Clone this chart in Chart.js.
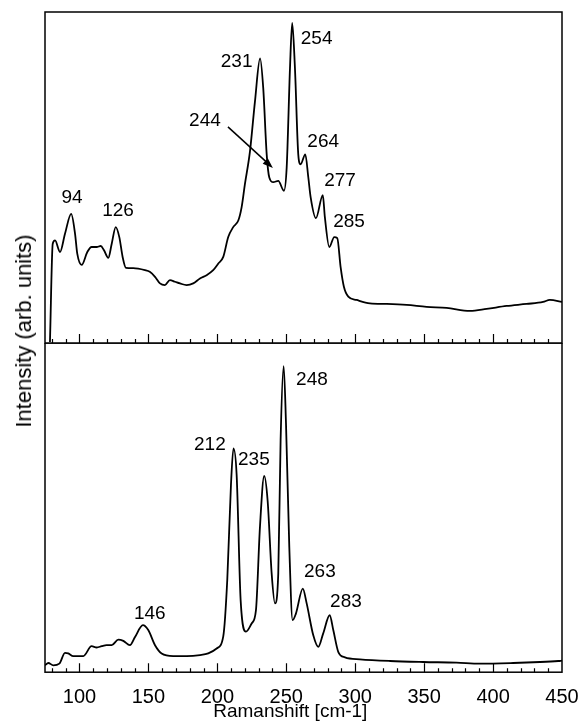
<!DOCTYPE html>
<html>
<head>
<meta charset="utf-8">
<script src="https://cdn.jsdelivr.net/npm/chart.js@4"></script>
<style>
  body { margin: 0; background: #fff; overflow: hidden; }
  #wrap { position: relative; width: 582px; height: 723px; overflow: hidden; }
  canvas { position: absolute; left: 0; }
  #top-graph { top: 0; }
  #bottom-graph { top: 343px; }
  #ytitle {
    position: absolute; left: 24px; top: 331px;
    transform: translate(-50%, -50%) rotate(-90deg);
    font: 22px 'Liberation Sans', Arial, sans-serif;
    white-space: nowrap; color: #000;
  }
</style>
</head>
<body>
<div id="wrap">
  <canvas id="top-graph" width="582" height="344"></canvas>
  <canvas id="bottom-graph" width="582" height="384"></canvas>
  <div id="ytitle">Intensity (arb. units)</div>
</div>
<script>
// x axis (Ramanshift, cm-1)
const xTicks = [100, 150, 200, 250, 300, 350, 400, 450];

// upper spectrum
const topShift = [78.6, 80.6, 82.3, 85.9, 89.5, 94, 96.8, 98.4, 101.6, 105.7,
  108.8, 112.5, 115.4, 117.8, 120.9, 123.4, 126.3, 128.9, 131.3, 133.7,
  139, 147.5, 151, 154.8, 158.4, 162, 165.6, 169.3, 172.9, 177.7,
  182.5, 187.4, 192.2, 197, 200.7, 204.3, 207.9, 211.5, 215.2, 217.6,
  220, 223.7, 227.3, 231, 233.3, 235.8, 237.7, 240.6, 244.2, 248.3,
  250.3, 252.7, 254.3, 256.3, 258.7, 260.4, 263.8, 266, 267.7, 271.5,
  276.5, 278, 281.2, 284.8, 287, 289.4, 291.8, 295, 301, 310.7,
  322.8, 337.3, 351.8, 366.3, 383.2, 395.3, 409.8, 424.3, 436.3, 441.2, 450];
const topIntensity = [0.3, 30, 31, 27.5, 33, 39, 33, 27, 23.6, 27.5,
  29, 29, 29.3, 28, 25.7, 30, 35, 32, 26, 22.7,
  22.6, 22, 21.5, 20, 18, 17.5, 19, 18.5, 18, 17.5,
  18, 19.5, 20.5, 22, 24, 26, 32, 35, 37, 41,
  48, 58, 73, 86, 77, 57, 50, 48.6, 49, 46,
  53, 83, 96.7, 83, 57, 54, 57, 50, 44, 37.7,
  44.7, 38, 29, 32, 31.7, 23, 17, 14, 13, 12,
  11.8, 11.5, 10.9, 10.6, 9.7, 10.3, 11.2, 11.8, 12.4, 13, 12.4];

// lower spectrum
const bottomShift = [75, 77.4, 81, 85.4, 89.5, 91.9, 95.5, 102.8, 108.8, 112.5,
  116.1, 119.7, 123.4, 128.2, 131.8, 136.6, 140.3, 146, 149.9, 154.8,
  159.6, 168, 177.8, 187.4, 193.4, 199.5, 204.3, 207.2, 209.9, 211.7,
  214, 216.9, 220.8, 224.9, 228, 230.9, 234, 236.5, 239.4, 241.8,
  244.2, 245.9, 248.1, 249.8, 252.2, 254.6, 257, 262, 264.8, 269.6,
  273.2, 276.8, 281.5, 284.1, 287.7, 292.6, 303.4, 325.2, 349.3, 373.5,
  390.4, 414.6, 434, 447.3, 450];
const bottomIntensity = [2.1, 2.8, 2.1, 2.6, 5.9, 5.7, 4.9, 4.9, 7.9, 7.5,
  7.9, 8.2, 8.2, 9.9, 9.5, 8.2, 10.7, 14.3, 12.8, 8.2,
  5.7, 4.9, 4.9, 5.2, 5.7, 7.2, 10.9, 28, 57, 68,
  60, 21.9, 12.3, 14.8, 18.8, 44, 59.6, 52, 30, 20.9,
  30, 70.5, 93, 75.6, 38, 15.8, 17.8, 25.4, 20.9, 11.2,
  7.7, 11.8, 17.3, 12.8, 6.2, 4.5, 3.9, 3.4, 3.1, 2.9,
  2.6, 2.8, 3.1, 3.4, 3.5];

// peak labels
const topPeaks = ['94', '126', '231', '244', '254', '264', '277', '285'];
const bottomPeaks = ['146', '212', '235', '248', '263', '283'];

// where the labels sit, in axis units
const topPeakPos = [[94.6, 43.8], [128, 40], [214, 85], [191, 67], [272, 92], [276.8, 60.7], [289, 49], [295.5, 36.6]];
const bottomPeakPos = [[151, 17.9], [194.6, 69], [226.5, 64.4], [268.6, 88.7], [274.4, 30.4], [293.3, 21.3]];
const arrow244 = [[207.7, 65.3], [240.3, 52.9]];

const FONT = "'Liberation Sans', Arial, sans-serif";

function framePlugin(texts, pos, arrow) {
  return {
    id: 'frame',
    afterDatasetsDraw(chart) {
      const { ctx, chartArea: a, scales: { x, y } } = chart;
      ctx.save();
      ctx.strokeStyle = '#000';
      ctx.lineWidth = 1.5;
      ctx.strokeRect(a.left, a.top, a.width, a.height);

      // inward ticks along the bottom edge
      ctx.lineWidth = 1.2;
      ctx.beginPath();
      for (let v = 80; v < 450; v += 10) {
        const px = Math.round(x.getPixelForValue(v)) + 0.5;
        ctx.moveTo(px, a.bottom);
        ctx.lineTo(px, a.bottom - (v % 50 === 0 ? 9 : 4));
      }
      ctx.stroke();

      ctx.fillStyle = '#000';
      ctx.font = '19px ' + FONT;
      ctx.textAlign = 'center';
      ctx.textBaseline = 'middle';
      texts.forEach((t, i) => {
        ctx.fillText(t, x.getPixelForValue(pos[i][0]), y.getPixelForValue(pos[i][1]));
      });

      if (arrow) {
        const x0 = x.getPixelForValue(arrow[0][0]), y0 = y.getPixelForValue(arrow[0][1]);
        const x1 = x.getPixelForValue(arrow[1][0]), y1 = y.getPixelForValue(arrow[1][1]);
        const ang = Math.atan2(y1 - y0, x1 - x0);
        ctx.lineWidth = 1.5;
        ctx.beginPath();
        ctx.moveTo(x0, y0);
        ctx.lineTo(x1 - 6 * Math.cos(ang), y1 - 6 * Math.sin(ang));
        ctx.stroke();
        ctx.beginPath();
        ctx.moveTo(x1, y1);
        ctx.lineTo(x1 - 11 * Math.cos(ang - 0.35), y1 - 11 * Math.sin(ang - 0.35));
        ctx.lineTo(x1 - 11 * Math.cos(ang + 0.35), y1 - 11 * Math.sin(ang + 0.35));
        ctx.closePath();
        ctx.fill();
      }
      ctx.restore();
    }
  };
}

function makeChart(id, xs, ys, showAxis, padding, texts, pos, arrow) {
  return new Chart(document.getElementById(id), {
    type: 'line',
    data: {
      datasets: [{
        data: xs.map((v, i) => ({ x: v, y: ys[i] })),
        borderColor: '#000',
        borderWidth: 1.8,
        pointRadius: 0,
        cubicInterpolationMode: 'monotone',
        fill: false
      }]
    },
    options: {
      responsive: false,
      animation: false,
      devicePixelRatio: 1,
      layout: { padding: padding },
      plugins: { legend: { display: false }, tooltip: { enabled: false } },
      scales: {
        x: {
          type: 'linear',
          min: 75,
          max: 450,
          display: showAxis,
          grid: { display: false, drawTicks: false },
          border: { display: false },
          afterBuildTicks: s => { s.ticks = xTicks.map(v => ({ value: v })); },
          // let the end labels hang over the frame instead of shrinking the plot
          afterFit: s => { s.paddingLeft = 0; s.paddingRight = 0; },
          ticks: { color: '#000', padding: 13, maxRotation: 0, font: { family: FONT, size: 20 } },
          title: {
            display: true,
            // trailing spaces nudge the centred title a little left, as in the original
            text: 'Ramanshift [cm-1]\u00a0\u00a0\u00a0\u00a0\u00a0',
            color: '#000',
            font: { family: FONT, size: 19 },
            padding: { top: -22, bottom: 2 }
          }
        },
        y: { min: 0, max: 100, display: false }
      }
    },
    plugins: [framePlugin(texts, pos, arrow)]
  });
}

makeChart('top-graph', topShift, topIntensity, false,
  { left: 45, right: 20, top: 12, bottom: 1 }, topPeaks, topPeakPos, arrow244);
makeChart('bottom-graph', bottomShift, bottomIntensity, true,
  { left: 45, right: 20, top: 0, bottom: 2 }, bottomPeaks, bottomPeakPos, null);
</script>
</body>
</html>
